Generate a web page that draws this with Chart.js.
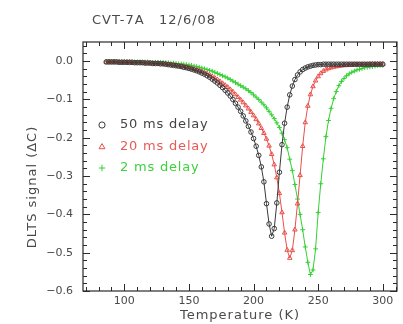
<!DOCTYPE html>
<html>
<head>
<meta charset="utf-8">
<script src="https://cdn.jsdelivr.net/npm/chart.js@4"></script>
<style>
  html, body { margin: 0; padding: 0; background: #fff; }
  canvas { display: block; }
</style>
</head>
<body>
<canvas id="dlts" width="403" height="324"></canvas>
<script>
// --- data (temperature in K, DLTS signal in ΔC) ---
const temps = [
  86, 88, 90, 92, 94, 96, 98, 100, 102, 104, 106, 108, 110, 112, 114, 116, 118, 120,
  122, 124, 126, 128, 130, 132, 134, 136, 138, 140, 142, 144, 146, 148, 150, 152, 154,
  156, 158, 160, 162, 164, 166, 168, 170, 172, 174, 176, 178, 180, 182, 184, 186, 188,
  190, 192, 194, 196, 198, 200, 202, 204, 206, 208, 210, 212, 214, 216, 218, 220, 222,
  224, 226, 228, 230, 232, 234, 236, 238, 240, 242, 244, 246, 248, 250, 252, 254, 256,
  258, 260, 262, 264, 266, 268, 270, 272, 274, 276, 278, 280, 282, 284, 286, 288, 290,
  292, 294, 296, 298, 300
];

const delay50 = [
  -0.002, -0.002, -0.002, -0.002, -0.002,
  -0.003, -0.003, -0.003, -0.003, -0.003,
  -0.003, -0.004, -0.004, -0.004, -0.004,
  -0.005, -0.005, -0.005, -0.006, -0.006,
  -0.006, -0.007, -0.007, -0.008, -0.009,
  -0.010, -0.011, -0.012, -0.013, -0.014,
  -0.016, -0.017, -0.019, -0.021, -0.023,
  -0.025, -0.028, -0.031, -0.034, -0.038,
  -0.042, -0.047, -0.052, -0.057, -0.063,
  -0.069, -0.076, -0.083, -0.091, -0.100,
  -0.110, -0.120, -0.131, -0.143, -0.156,
  -0.170, -0.185, -0.202, -0.222, -0.246,
  -0.276, -0.315, -0.372, -0.425, -0.457,
  -0.437, -0.370, -0.290, -0.218, -0.162,
  -0.120, -0.088, -0.065, -0.048, -0.036,
  -0.028, -0.022, -0.018, -0.015, -0.013,
  -0.011, -0.010, -0.009, -0.009, -0.008,
  -0.008, -0.008, -0.008, -0.008, -0.008,
  -0.008, -0.008, -0.008, -0.008, -0.008,
  -0.008, -0.008, -0.008, -0.008, -0.008,
  -0.008, -0.008, -0.008, -0.008, -0.008,
  -0.008, -0.008, -0.008
];

const delay20 = [
  -0.003, -0.003, -0.003, -0.003, -0.003,
  -0.003, -0.003, -0.003, -0.003, -0.003,
  -0.004, -0.004, -0.004, -0.004, -0.005,
  -0.005, -0.005, -0.005, -0.006, -0.006,
  -0.006, -0.007, -0.007, -0.007, -0.008,
  -0.009, -0.010, -0.011, -0.012, -0.013,
  -0.014, -0.016, -0.017, -0.019, -0.021,
  -0.023, -0.025, -0.027, -0.030, -0.033,
  -0.036, -0.040, -0.044, -0.048, -0.053,
  -0.058, -0.063, -0.068, -0.074, -0.080,
  -0.087, -0.094, -0.101, -0.108, -0.116,
  -0.124, -0.133, -0.142, -0.152, -0.163,
  -0.175, -0.188, -0.203, -0.221, -0.243,
  -0.270, -0.304, -0.345, -0.395, -0.448,
  -0.493, -0.514, -0.494, -0.440, -0.372,
  -0.298, -0.222, -0.160, -0.117, -0.087,
  -0.066, -0.051, -0.040, -0.032, -0.026,
  -0.022, -0.019, -0.017, -0.015, -0.014,
  -0.013, -0.012, -0.011, -0.011, -0.010,
  -0.010, -0.009, -0.009, -0.009, -0.009,
  -0.009, -0.009, -0.008, -0.008, -0.008,
  -0.008, -0.008, -0.008
];

const delay2 = [
  -0.001, -0.001, -0.001, -0.001, -0.001,
  -0.001, -0.001, -0.001, -0.002, -0.002,
  -0.002, -0.002, -0.002, -0.002, -0.002,
  -0.002, -0.002, -0.003, -0.003, -0.003,
  -0.003, -0.003, -0.003, -0.004, -0.004,
  -0.005, -0.005, -0.006, -0.007, -0.007,
  -0.008, -0.009, -0.010, -0.011, -0.013,
  -0.014, -0.016, -0.018, -0.020, -0.022,
  -0.024, -0.026, -0.029, -0.032, -0.035,
  -0.038, -0.041, -0.044, -0.048, -0.052,
  -0.056, -0.060, -0.064, -0.068, -0.072,
  -0.077, -0.082, -0.088, -0.094, -0.100,
  -0.107, -0.114, -0.122, -0.131, -0.140,
  -0.150, -0.161, -0.173, -0.188, -0.205,
  -0.226, -0.256, -0.286, -0.322, -0.360,
  -0.400, -0.440, -0.485, -0.525, -0.557,
  -0.545, -0.490, -0.395, -0.320, -0.255,
  -0.197, -0.155, -0.123, -0.098, -0.079,
  -0.064, -0.053, -0.045, -0.038, -0.033,
  -0.029, -0.026, -0.023, -0.021, -0.019,
  -0.017, -0.016, -0.015, -0.014, -0.013,
  -0.012, -0.011, -0.011
];

const seriesLabels = ['50 ms delay', '20 ms delay', '2 ms delay'];
const xTicks = [100, 150, 200, 250, 300];
const yTicks = [0, -0.1, -0.2, -0.3, -0.4, -0.5, -0.6];

const FONT = "'DejaVu Sans', sans-serif";
const TEXT = '#4a4a4a';

const toPoints = vals => temps.map((t, i) => ({ x: t, y: vals[i] }));

// box with inward tick marks on all four sides, like the original plot
const frame = {
  id: 'frame',
  afterDraw(chart) {
    const { ctx, chartArea: a, scales: { x, y } } = chart;
    ctx.save();
    ctx.strokeStyle = '#2a2a2a';
    ctx.lineWidth = 1.2;
    ctx.strokeRect(a.left, a.top, a.right - a.left, a.bottom - a.top);
    ctx.lineWidth = 1;
    ctx.beginPath();
    for (let v = 70; v <= 310; v += 10) {
      const px = Math.round(x.getPixelForValue(v)) + 0.5;
      const len = v % 50 === 0 ? 7 : 4;
      ctx.moveTo(px, a.bottom); ctx.lineTo(px, a.bottom - len);
      ctx.moveTo(px, a.top); ctx.lineTo(px, a.top + len);
    }
    for (let k = -30; k <= 2; k++) {
      const py = Math.round(y.getPixelForValue(k / 50)) + 0.5;
      const len = k % 5 === 0 ? 7 : 4;
      ctx.moveTo(a.left, py); ctx.lineTo(a.left + len, py);
      ctx.moveTo(a.right, py); ctx.lineTo(a.right - len, py);
    }
    ctx.stroke();

    // titles
    ctx.fillStyle = TEXT;
    ctx.font = '13px ' + FONT;
    ctx.letterSpacing = '1px';
    ctx.textBaseline = 'middle';
    ctx.textAlign = 'left';
    ctx.fillText('CVT-7A', 92, 21);
    ctx.fillText('12/6/08', 159, 21);
    ctx.textAlign = 'center';
    ctx.fillText('Temperature (K)', 240, 316);
    ctx.translate(33, 187);
    ctx.rotate(-Math.PI / 2);
    ctx.fillText('DLTS signal (ΔC)', 0, 0);
    ctx.restore();
  }
};

// legend drawn inside the plot area
const insideLegend = {
  id: 'insideLegend',
  afterDatasetsDraw(chart) {
    const ctx = chart.ctx;
    const rows = [125, 147, 168];
    ctx.save();
    ctx.font = '13px ' + FONT;
    ctx.letterSpacing = '0.8px';
    ctx.textBaseline = 'middle';
    chart.data.datasets.forEach((ds, i) => {
      ctx.strokeStyle = ds.borderColor;
      ctx.fillStyle = 'rgba(0,0,0,0)';
      ctx.lineWidth = 1;
      Chart.helpers.drawPoint(ctx, {
        pointStyle: ds.pointStyle, radius: ds.pointRadius + 0.8, rotation: 0, borderWidth: 1
      }, 102, rows[i]);
      ctx.fillStyle = ds.legendColor;
      ctx.fillText(ds.label, 120, rows[i]);
    });
    ctx.restore();
  }
};

const makeSet = (label, vals, color, legendColor, style, r) => ({
  label: label,
  data: toPoints(vals),
  borderColor: color,
  backgroundColor: 'rgba(0,0,0,0)',
  legendColor: legendColor,
  borderWidth: 1,
  pointStyle: style,
  pointRadius: r,
  pointBorderWidth: 1,
  pointBorderColor: color,
  pointBackgroundColor: 'rgba(0,0,0,0)',
  tension: 0
});

new Chart(document.getElementById('dlts'), {
  type: 'line',
  data: {
    datasets: [
      makeSet(seriesLabels[0], delay50, '#3a3a3a', '#444', 'circle', 2.3),
      makeSet(seriesLabels[1], delay20, '#e8504a', '#ea5a55', 'triangle', 2.6),
      makeSet(seriesLabels[2], delay2, '#35d035', '#3ed23e', 'cross', 2.4)
    ]
  },
  options: {
    responsive: false,
    animation: false,
    layout: { padding: { top: 42, right: 6, left: 0, bottom: 0 } },
    plugins: { legend: { display: false }, tooltip: { enabled: false } },
    scales: {
      x: {
        type: 'linear',
        min: 68,
        max: 311,
        grid: { display: false, drawTicks: false },
        border: { display: false },
        afterBuildTicks: s => { s.ticks = xTicks.map(v => ({ value: v })); },
        afterFit: s => { s.height = 33; },
        ticks: { padding: 4, maxRotation: 0, color: TEXT, font: { family: FONT, size: 11 } }
      },
      y: {
        type: 'linear',
        min: -0.6,
        max: 0.05,
        grid: { display: false, drawTicks: false },
        border: { display: false },
        afterBuildTicks: s => { s.ticks = yTicks.map(v => ({ value: v })); },
        afterFit: s => { s.width = 83; },
        ticks: {
          padding: 10,
          color: TEXT,
          font: { family: FONT, size: 11 },
          callback: v => (v < 0 ? '\u2212' : '') + Math.abs(v).toFixed(1)
        }
      }
    }
  },
  plugins: [frame, insideLegend]
});
</script>
</body>
</html>
